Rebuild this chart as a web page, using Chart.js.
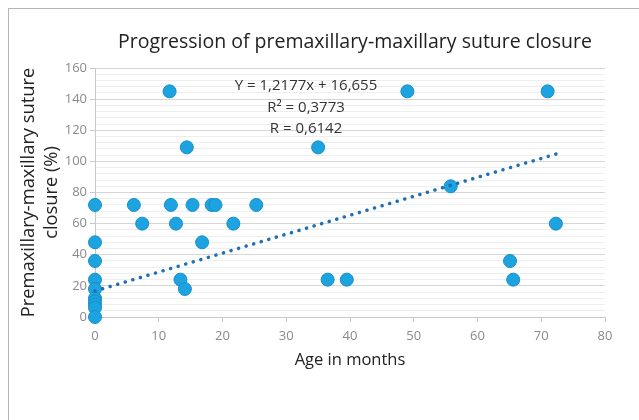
<!DOCTYPE html>
<html lang="en">
<head>
    <meta charset="UTF-8" />
    <title>Premaxillary-maxillary suture closure</title>
    <script src="https://cdn.jsdelivr.net/npm/chart.js"></script>
    <style>
        html, body {
            margin: 0;
            background: #fff;
        }
        .wrap {
            position: relative;
            width: 639px;
            height: 420px;
        }
        .frame {
            position: absolute;
            left: 8px;
            top: 8px;
            right: -2px;
            bottom: -2px;
            border-left: 1.5px solid #b5b5b5;
            border-top: 1.5px solid #b5b5b5;
            pointer-events: none;
        }
    </style>
</head>
<body>
<div class="wrap">
    <canvas id="chart" width="639" height="420"></canvas>
    <div class="frame"></div>
</div>
<script>
    // age in months / suture closure (%)
    const ageMonths = [0, 0, 0, 0, 0, 0, 0, 0, 0, 0,
        6.1, 7.4, 11.7, 11.9, 12.7, 13.4, 14.1, 14.4, 15.3, 16.8,
        18.3, 18.9, 21.7, 25.3, 35, 36.5, 39.5, 49, 55.8, 65.1, 65.6, 71, 72.3];
    const closurePct = [72, 48, 36, 24, 18, 12, 10, 8, 6, 0,
        72, 60, 145, 72, 60, 24, 18, 109, 72, 48,
        72, 72, 60, 72, 109, 24, 24, 145, 84, 36, 24, 145, 60];

    // linear trend endpoints
    const trendX = [0, 72.3];
    const trendY = [16.7, 104.7];

    const chartTitle = 'Progression of premaxillary-maxillary suture closure';
    const equationLines = ['Y = 1,2177x + 16,655', 'R² = 0,3773', 'R = 0,6142'];

    const FONT = "'Open Sans', sans-serif";

    const points = ageMonths.map((x, i) => ({ x: x, y: closurePct[i] }));
    const trend = trendX.map((x, i) => ({ x: x, y: trendY[i] }));

    // title centred over the plot + regression text
    const labels = {
        id: 'labels',
        afterDraw(chart) {
            const { ctx, scales, chartArea } = chart;
            ctx.save();
            ctx.fillStyle = '#222';
            ctx.textAlign = 'center';
            ctx.textBaseline = 'middle';
            ctx.font = '19.5px ' + FONT;
            ctx.fillText(chartTitle, (chartArea.left + chartArea.right) / 2 + 5, 42);

            const cx = scales.x.getPixelForValue(33.1);
            const ys = [148.5, 134.5, 121];
            ctx.font = '15px ' + FONT;
            ctx.fillStyle = '#333';
            equationLines.forEach((t, i) => {
                ctx.fillText(t, cx, scales.y.getPixelForValue(ys[i]));
            });
            ctx.restore();
        }
    };

    new Chart(document.getElementById('chart'), {
        type: 'scatter',
        data: {
            datasets: [{
                label: 'Closure',
                data: points,
                backgroundColor: '#1ca3e0',
                borderColor: '#1690c9',
                borderWidth: 1,
                pointRadius: 6.5,
                clip: false,
                order: 2
            }, {
                type: 'line',
                label: 'Trend',
                data: trend,
                borderColor: '#1d6fb6',
                borderWidth: 3.5,
                borderDash: [0.1, 7.78],
                borderCapStyle: 'round',
                pointRadius: 0,
                fill: false,
                clip: false,
                order: 1
            }]
        },
        options: {
            responsive: false,
            animation: false,
            layout: { padding: { left: 8, right: 34, top: 68, bottom: 0 } },
            plugins: {
                legend: { display: false },
                tooltip: { enabled: false },
                title: { display: false }
            },
            scales: {
                x: {
                    type: 'linear',
                    min: 0,
                    max: 80,
                    afterFit(scale) { scale.height = 103; },
                    ticks: {
                        stepSize: 10,
                        color: '#8a8a8a',
                        padding: 6,
                        font: { family: FONT, size: 13 }
                    },
                    grid: {
                        drawOnChartArea: false,
                        drawTicks: true,
                        tickLength: 5,
                        color: '#c8c8c8'
                    },
                    border: { color: '#c8c8c8' },
                    title: {
                        display: true,
                        text: 'Age in months',
                        color: '#222',
                        font: { family: FONT, size: 16.5 },
                        padding: { top: 4, bottom: 50 }
                    }
                },
                y: {
                    min: 0,
                    max: 160,
                    afterFit(scale) { scale.width = 87; },
                    ticks: {
                        stepSize: 4,
                        autoSkip: false,
                        color: '#8a8a8a',
                        padding: 3,
                        font: { family: FONT, size: 13 },
                        callback: v => (v % 20 === 0 ? v : '')
                    },
                    grid: {
                        tickLength: 5,
                        color: c => (c.tick && c.tick.value % 20 === 0 ? '#d6d6d6' : '#eeeeee'),
                        tickColor: c => (c.tick && c.tick.value % 20 === 0 ? '#c8c8c8' : 'rgba(0,0,0,0)')
                    },
                    border: { color: '#c8c8c8' },
                    title: {
                        display: true,
                        text: ['Premaxillary-maxillary suture', 'closure (%)'],
                        color: '#222',
                        font: { family: FONT, size: 18.3, lineHeight: 1.22 },
                        padding: { top: 10, bottom: 0 }
                    }
                }
            }
        },
        plugins: [labels]
    });
</script>
</body>
</html>
